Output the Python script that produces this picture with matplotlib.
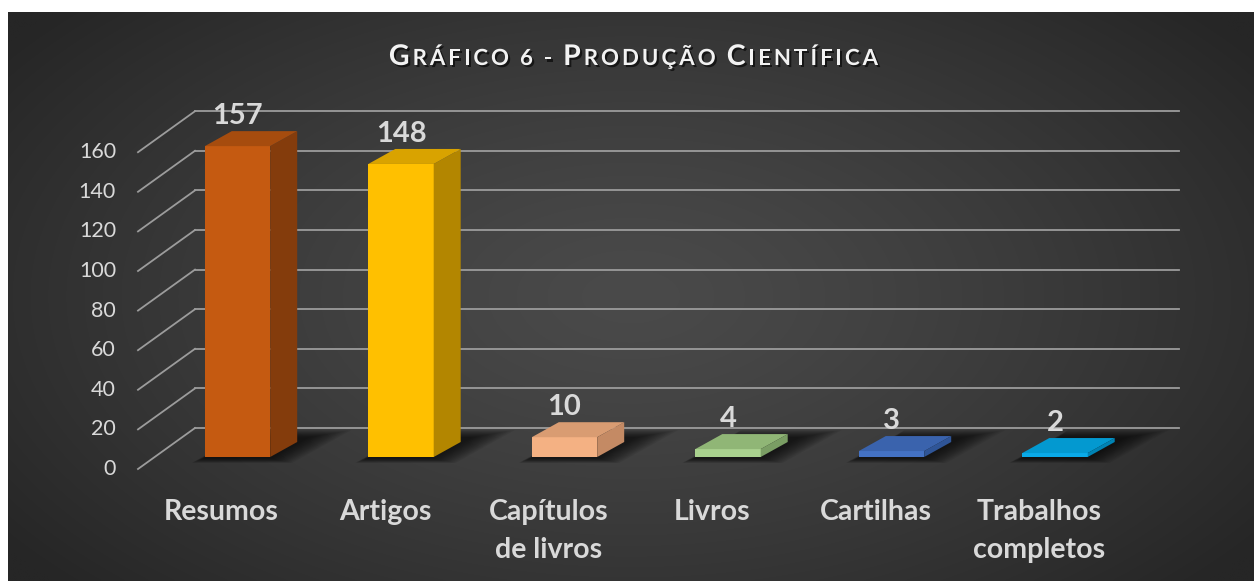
import matplotlib.pyplot as plt
import matplotlib.patheffects as pe
from matplotlib.patches import Polygon
import numpy as np

categorias = ["Resumos", "Artigos", "Capítulos\nde livros", "Livros", "Cartilhas", "Trabalhos\ncompletos"]
valores = [157, 148, 10, 4, 3, 2]
ticks = [0, 20, 40, 60, 80, 100, 120, 140, 160]

cor_frente = ["#C55A11", "#FFC000", "#F4B183", "#A9D18E", "#4472C4", "#0AAAE8"]
cor_lado = ["#843C0C", "#B38600", "#C48A64", "#7A9E64", "#2F5597", "#0083B4"]
cor_topo = ["#A64C0E", "#D9A300", "#D99C72", "#90B676", "#3A63AD", "#0399D0"]

titulo = [("G", 20.5), ("RÁFICO", 16), (" ", 0), ("6", 16), (" ", 0), ("-", 16), (" ", 0),
          ("P", 20.5), ("RODUÇÃO", 16), (" ", 0), ("C", 20.5), ("IENTÍFICA", 16)]

plt.rcParams['font.family'] = ['Lato', 'DejaVu Sans']

W, H = 1254, 581
# calibracao em pixels: centro da categoria 0 e valor 0 no plano frontal das barras
X0, Y0 = 237.5, 457
PX_CAT, PX_VAL = 163.5, 1.98


def cx(px):
    return (px - X0) / PX_CAT


def vy(px):
    return (Y0 - px) / PX_VAL


fig = plt.figure(figsize=(W / 100, H / 100), dpi=100)
fig.patch.set_facecolor('white')

# fundo com gradiente radial
bg = fig.add_axes([8 / W, 0, 1 - 8 / W, 1 - 12 / H])
yy, xx = np.mgrid[0:1:300j, 0:1:600j]
d = np.sqrt(((xx - 0.5) / 0.62) ** 2 + ((yy - 0.5) / 0.75) ** 2)
d = np.clip(d, 0, 1)
c_centro = np.array([0x4a, 0x4a, 0x4a]) / 255
c_borda = np.array([0x26, 0x26, 0x26]) / 255
img = c_centro + (c_borda - c_centro) * (d[..., None] ** 1.3)
bg.imshow(img, aspect='auto', extent=[0, 1, 0, 1], interpolation='bilinear')
bg.axis('off')

ax = fig.add_axes([0, 0, 1, 1])
ax.set_xlim(cx(0), cx(W))
ax.set_ylim(vy(H), vy(0))
ax.axis('off')
ax.patch.set_alpha(0)

grid_cor = '#9C9C9C'
cinza = '#D9D9D9'

# linhas de grade (parede do fundo + diagonais laterais)
for t in ticks:
    yf = t - 12 / PX_VAL
    yb = t + 29 / PX_VAL
    ax.plot([cx(138), cx(195)], [yf, yb], color=grid_cor, lw=1.3, zorder=1)
    ax.plot([cx(195), cx(1179)], [yb, yb], color=grid_cor, lw=1.3, zorder=1)
    ax.text(cx(116), yf, str(t), ha='right', va='center', fontsize=15.5,
            color=cinza)

x = np.arange(len(valores))
w = 0.4
ddx = 27 / PX_CAT
ddy = 15 / PX_VAL

# sombras no chao (desfocadas em camadas)
n = 12
for i, v in enumerate(valores):
    for k in range(n):
        s = 1 - k / n
        x1 = x[i] - w / 2 - 0.08 * s
        x2 = x[i] + w / 2 + ddx + 0.05 + 0.28 * s
        y1 = -0.5 - 2.5 * s
        y2 = ddy + 2 + 4 * s
        sh = (y2 - y1) / ddy * ddx
        poly = Polygon([(x1, y1), (x2 - sh, y1), (x2, y2), (x1 + sh, y2)],
                       closed=True, facecolor='black', edgecolor='none',
                       alpha=0.07, zorder=2)
        ax.add_patch(poly)

ax.bar(x, valores, width=w, color=cor_frente, zorder=3)
for i, v in enumerate(valores):
    xr = x[i] + w / 2
    xl = x[i] - w / 2
    lado = Polygon([(xr, 0), (xr + ddx, ddy), (xr + ddx, v + ddy), (xr, v)],
                   closed=True, facecolor=cor_lado[i], edgecolor='none', zorder=3)
    topo = Polygon([(xl, v), (xr, v), (xr + ddx, v + ddy), (xl + ddx, v + ddy)],
                   closed=True, facecolor=cor_topo[i], edgecolor='none', zorder=3)
    ax.add_patch(lado)
    ax.add_patch(topo)
    ax.text(x[i], v + ddy + 7 / PX_VAL, str(v), ha='center', va='baseline',
            fontsize=21, fontweight='bold', color=cinza, zorder=4)
    for k, linha in enumerate(categorias[i].split("\n")):
        ax.text(x[i] - 16 / PX_CAT, vy(520 + 38 * k), linha, ha='center', va='baseline',
                fontsize=20.5, fontweight='bold', color=cinza)

# titulo em versaletes, letra a letra para espacejar
fig.canvas.draw()
r = fig.canvas.get_renderer()
sombra = [pe.SimplePatchShadow(offset=(1.5, -1.5), shadow_rgbFace='black', alpha=0.6), pe.Normal()]
partes = []
pos = 0
for txt, tam in titulo:
    if txt == " ":
        pos += 8
        continue
    for ch in txt:
        t = fig.text(0, 1 - 65 / H, ch, fontsize=tam, fontweight='bold', color='#F2F2F2',
                     ha='left', va='baseline', path_effects=sombra)
        partes.append((t, pos))
        pos += t.get_window_extent(r).width + 3
inicio = 635 - pos / 2
for t, p in partes:
    t.set_x((inicio + p) / W)

fig.savefig('out.png', dpi=100)
